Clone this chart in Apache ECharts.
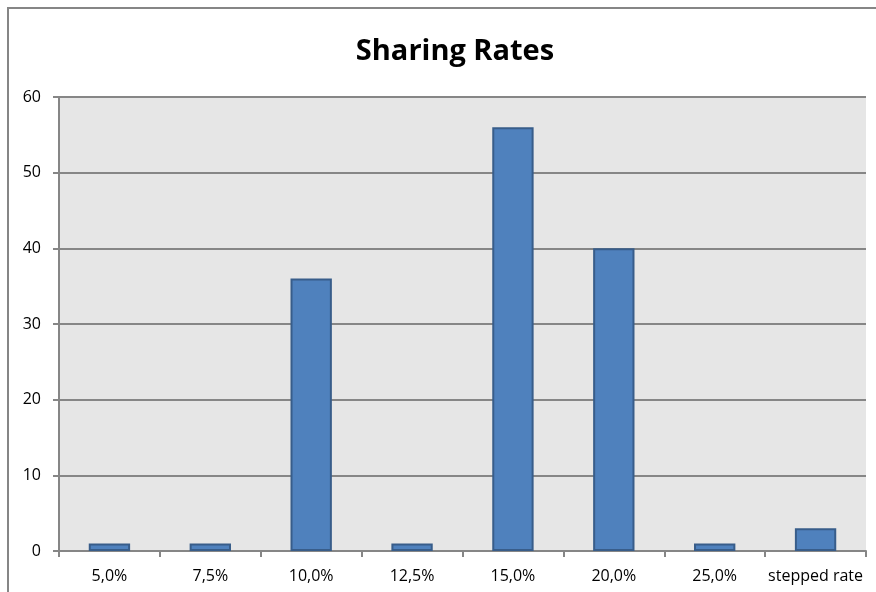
<!DOCTYPE html>
<html>
<head>
<meta charset="utf-8">
<script src="https://cdn.jsdelivr.net/npm/echarts@6/dist/echarts.min.js"></script>
<style>
  html, body { margin: 0; padding: 0; background: #fff; }
  #chart { width: 876px; height: 592px; }
</style>
</head>
<body>
<div id="chart"></div>
<script>
const categories = ['5,0%', '7,5%', '10,0%', '12,5%', '15,0%', '20,0%', '25,0%', 'stepped rate']
const counts = [1, 1, 36, 1, 56, 40, 1, 3]
const yTicks = { min: 0, max: 60, step: 10 }

const axisGray = '#868686'
const font = '"Open Sans", "DejaVu Sans", sans-serif'

const chart = echarts.init(document.getElementById('chart'))
chart.setOption({
    animation: false,
    title: {
        text: 'Sharing Rates',
        left: 450,
        textAlign: 'center',
        top: 32,
        textStyle: { fontFamily: font, fontSize: 29, fontWeight: 'bold', color: '#000' }
    },
    graphic: [{
        type: 'rect',
        shape: { x: 8, y: 8, width: 880, height: 600 },
        style: { fill: null, stroke: axisGray, lineWidth: 2 },
        silent: true
    }],
    grid: {
        left: 59, top: 97, right: 10, bottom: 41,
        show: true, backgroundColor: '#e6e6e6', borderWidth: 0
    },
    xAxis: {
        type: 'category',
        data: categories,
        axisLine: { lineStyle: { color: axisGray, width: 2 } },
        axisTick: { show: true, length: 6, lineStyle: { color: axisGray, width: 2 } },
        axisLabel: { color: '#000', fontFamily: font, fontSize: 16, margin: 17, interval: 0 }
    },
    yAxis: {
        type: 'value',
        min: yTicks.min,
        max: yTicks.max,
        interval: yTicks.step,
        axisLine: { show: true, lineStyle: { color: axisGray, width: 2 } },
        axisTick: { show: true, length: 6, lineStyle: { color: axisGray, width: 2 } },
        axisLabel: { color: '#000', fontFamily: font, fontSize: 16, margin: 18 },
        splitLine: { lineStyle: { color: axisGray, width: 2 } }
    },
    series: [{
        type: 'bar',
        data: counts,
        barWidth: '41%',
        itemStyle: { color: '#4f81bd', borderColor: '#385d8a', borderWidth: 2 }
    }]
})
</script>
</body>
</html>
